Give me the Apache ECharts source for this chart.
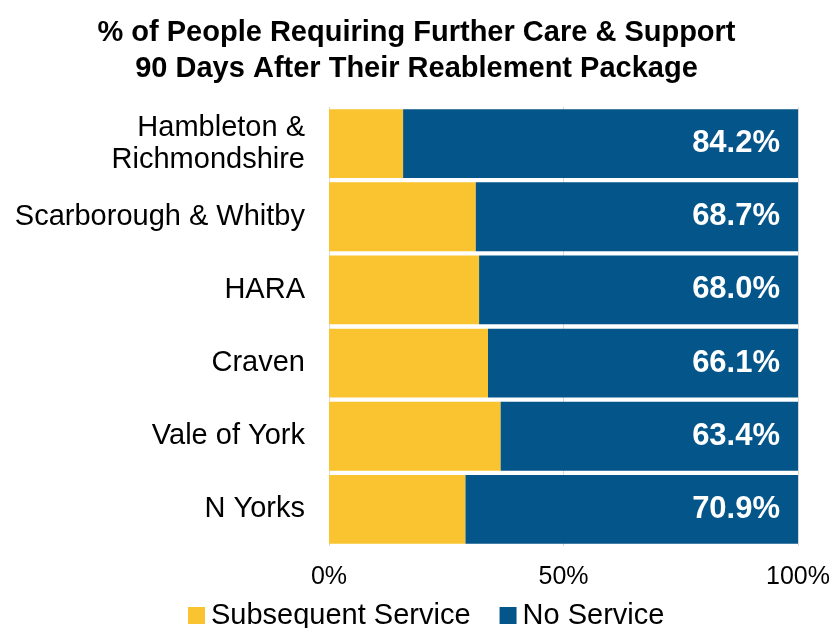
<!DOCTYPE html>
<html>
<head>
<meta charset="utf-8">
<script src="https://cdn.jsdelivr.net/npm/echarts@6/dist/echarts.min.js"></script>
<style>
  html, body { margin: 0; padding: 0; background: #fff; }
  #chart { width: 833px; height: 628px; }
</style>
</head>
<body>
<div id="chart"></div>
<script>
// Areas, top to bottom
const areas = [
  'Hambleton &\nRichmondshire',
  'Scarborough & Whitby',
  'HARA',
  'Craven',
  'Vale of York',
  'N Yorks'
];
// % with no further service 90 days after reablement
const noService = [84.2, 68.7, 68.0, 66.1, 63.4, 70.9];
// % needing a subsequent service (remainder of 100%)
const subsequentService = noService.map(v => +(100 - v).toFixed(1));
const xTicks = [0, 50, 100];

const FONT = '"Liberation Sans", Arial, sans-serif';

const chart = echarts.init(document.getElementById('chart'));
chart.setOption({
  animation: false,
  backgroundColor: '#ffffff',
  title: {
    text: '% of People Requiring Further Care & Support\n90 Days After Their Reablement Package',
    left: 'center',
    top: 10,
    textStyle: {
      fontFamily: FONT,
      fontSize: 29,
      fontWeight: 'bold',
      color: '#000',
      lineHeight: 36
    }
  },
  legend: {
    left: 183,
    top: 596,
    itemWidth: 17,
    itemHeight: 17,
    itemGap: 29,
    icon: 'rect',
    textStyle: { fontFamily: FONT, fontSize: 29, color: '#000', padding: [0, 0, 0, 1] },
    data: ['Subsequent Service', 'No Service']
  },
  grid: { left: 329, right: 34, top: 107, bottom: 82 },
  xAxis: {
    type: 'value',
    min: xTicks[0],
    max: xTicks[xTicks.length - 1],
    interval: 50,
    axisLine: { show: false },
    axisTick: { show: false },
    splitLine: { show: true, lineStyle: { color: '#d9d9d9', width: 1 } },
    axisLabel: {
      fontFamily: FONT,
      fontSize: 25,
      color: '#000',
      margin: 19,
      formatter: v => v + '%'
    }
  },
  yAxis: {
    type: 'category',
    inverse: true,
    data: areas,
    axisLine: { show: false },
    axisTick: { show: false },
    axisLabel: {
      fontFamily: FONT,
      fontSize: 29,
      color: '#000',
      margin: 24,
      lineHeight: 32,
      align: 'right'
    }
  },
  series: [
    {
      name: 'Subsequent Service',
      type: 'bar',
      stack: 'total',
      barCategoryGap: '6%',
      itemStyle: { color: '#F9C42F' },
      data: subsequentService
    },
    {
      name: 'No Service',
      type: 'bar',
      stack: 'total',
      barCategoryGap: '6%',
      itemStyle: { color: '#03558A' },
      label: {
        show: true,
        position: 'insideRight',
        distance: 18,
        fontFamily: FONT,
        fontSize: 31,
        fontWeight: 'bold',
        color: '#fff',
        formatter: p => p.value.toFixed(1) + '%'
      },
      data: noService
    }
  ]
});
</script>
</body>
</html>
